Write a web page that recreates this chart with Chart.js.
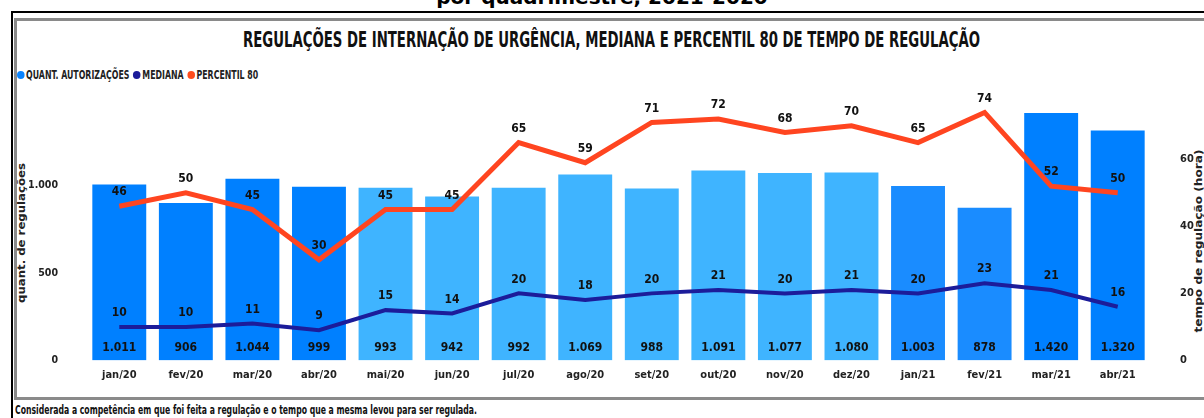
<!DOCTYPE html>
<html>
<head>
<meta charset="utf-8">
<script src="https://cdn.jsdelivr.net/npm/chart.js@4.4.1/dist/chart.umd.min.js"></script>
<style>
  html,body{margin:0;padding:0;background:#fff;width:1204px;height:418px;overflow:hidden;position:relative;
    font-family:"Liberation Sans Narrow","DejaVu Sans Condensed","Roboto",sans-serif;}
  .abs{position:absolute;white-space:nowrap;}
  #cut{top:-15px;left:0;width:1204px;text-align:center;font-family:"DejaVu Sans","Liberation Sans",sans-serif;font-weight:bold;font-size:20px;color:#000;}
  #outer{left:11px;top:11px;width:1200px;height:420px;border-left:2px solid #000;border-top:2px solid #000;box-sizing:border-box;}
  #inner{left:14px;top:18px;width:1200px;height:382px;border-left:3px solid #8a8a8a;border-top:3px solid #8a8a8a;border-bottom:3px solid #8a8a8a;box-sizing:border-box;}
  #title{top:28px;left:243px;font-weight:bold;font-size:21px;color:#111;transform-origin:0 0;}
  #legend{top:68px;left:17px;font-weight:bold;font-size:11.5px;color:#222;display:flex;align-items:center;transform-origin:0 0;}
  .dot{display:inline-block;width:10px;height:8px;border-radius:50%;margin:0 2px 0 0;}
  .lab{margin-right:5px;}
  #ytl{left:21px;top:233px;font-weight:bold;font-size:11px;color:#222;}
  #ytr{left:1198px;top:241px;font-weight:bold;font-size:11px;color:#222;}
  #foot{left:15px;top:402px;font-weight:bold;font-size:12.5px;color:#111;transform-origin:0 0;}
  #wrap{position:absolute;left:14px;top:22px;width:1190px;height:374px;}
</style>
</head>
<body>
<div id="cut" class="abs">por quadrimestre, 2021-2020</div>
<div id="outer" class="abs"></div>
<div id="inner" class="abs"></div>
<div id="title" class="abs" data-w="737">REGULAÇÕES DE INTERNAÇÃO DE URGÊNCIA, MEDIANA E PERCENTIL 80 DE TEMPO DE REGULAÇÃO</div>
<div id="legend" class="abs" data-w="245">
  <span class="dot" style="background:#0a84ff"></span><span class="lab">QUANT. AUTORIZAÇÕES</span>
  <span class="dot" style="background:#1c1c9a"></span><span class="lab">MEDIANA</span>
  <span class="dot" style="background:#ff4d1c"></span><span class="lab">PERCENTIL 80</span>
</div>
<div id="ytl" class="abs" data-len="140">quant. de regulações</div>
<div id="ytr" class="abs" data-len="183">tempo de regulação (hora)</div>
<div id="foot" class="abs" data-w="462">Considerada a competência em que foi feita a regulação e o tempo que a mesma levou para ser regulada.</div>
<div id="wrap"><canvas id="c"></canvas></div>
<script>
const categories = ["jan/20","fev/20","mar/20","abr/20","mai/20","jun/20","jul/20","ago/20","set/20","out/20","nov/20","dez/20","jan/21","fev/21","mar/21","abr/21"];
const autorizacoes = [1011,906,1044,999,993,942,992,1069,988,1091,1077,1080,1003,878,1420,1320];
const mediana = [10,10,11,9,15,14,20,18,20,21,20,21,20,23,21,16];
const percentil80 = [46,50,45,30,45,45,65,59,71,72,68,70,65,74,52,50];
const barColors = ["#0080ff","#0080ff","#0080ff","#0080ff","#3fb4ff","#3fb4ff","#3fb4ff","#3fb4ff","#3fb4ff","#3fb4ff","#3fb4ff","#3fb4ff","#1a8cff","#1a8cff","#0080ff","#0080ff"];
const leftTicks = [0,500,1000];
const rightTicks = [0,20,40,60];

document.querySelectorAll('[data-w]').forEach(el=>{
  const w = el.getBoundingClientRect().width;
  const t = parseFloat(el.dataset.w);
  el.style.transform = 'scaleX(' + (t / w) + ')';
});
document.querySelectorAll('[data-len]').forEach(el=>{
  const w = el.getBoundingClientRect().width;
  const t = parseFloat(el.dataset.len);
  el.style.transform = 'translate(-50%,-50%) rotate(-90deg) scaleX(' + (t / w) + ')';
});

function fmt(n){ return String(n).replace(/\B(?=(\d{3})+(?!\d))/g,'.'); }

const FONT = '"Liberation Sans Narrow","DejaVu Sans Condensed",Roboto,sans-serif';
Chart.defaults.font.family = FONT;

const labelPlugin = {
  id:'labels',
  afterDatasetsDraw(chart){
    const ctx = chart.ctx;
    ctx.save();
    ctx.textAlign='center';
    ctx.textBaseline='middle';
    ctx.fillStyle='#111';
    ctx.font = 'bold 12px ' + FONT;
    chart.data.datasets.forEach((ds,i)=>{
      const meta = chart.getDatasetMeta(i);
      meta.data.forEach((el,j)=>{
        const v = ds.data[j];
        if(ds.type==='bar'){
          ctx.fillText(fmt(v), el.x, chart.chartArea.bottom - 13);
        } else {
          ctx.fillText(String(v), el.x, el.y - 14);
        }
      });
    });
    ctx.restore();
  }
};

new Chart(document.getElementById('c'),{
  data:{
    labels:categories,
    datasets:[
      {type:'line',label:'PERCENTIL 80',data:percentil80,yAxisID:'y2',borderColor:'#ff4520',borderWidth:5,pointRadius:0,tension:0,order:0},
      {type:'line',label:'MEDIANA',data:mediana,yAxisID:'y2',borderColor:'#1c1c9a',borderWidth:4,pointRadius:0,tension:0,order:1},
      {type:'bar',label:'QUANT. AUTORIZAÇÕES',data:autorizacoes,yAxisID:'y',backgroundColor:barColors,borderColor:'rgba(255,255,255,0.35)',borderWidth:1,barPercentage:0.84,categoryPercentage:1,order:2}
    ]
  },
  options:{
    responsive:true,maintainAspectRatio:false,animation:false,
    layout:{padding:{top:76,left:0,right:0,bottom:0}},
    plugins:{legend:{display:false},tooltip:{enabled:false}},
    scales:{
      x:{grid:{display:false,drawTicks:false},border:{display:false},
         ticks:{padding:8,color:'#222',font:{size:11,weight:'bold'},maxRotation:0,autoSkip:false},
         afterFit(s){s.height=34;}},
      y:{position:'left',min:0,max:1500,grid:{display:false,drawTicks:false},border:{display:false},
         ticks:{padding:28,color:'#222',font:{size:10.5,weight:'bold'},callback:v=>fmt(v)},
         afterBuildTicks(s){s.ticks=leftTicks.map(v=>({value:v}));},
         afterFit(s){s.width=72;}},
      y2:{position:'right',min:0,max:78.3,grid:{display:false,drawTicks:false},border:{display:false},
         ticks:{padding:29,color:'#222',font:{size:11,weight:'bold'}},
         afterBuildTicks(s){s.ticks=rightTicks.map(v=>({value:v}));},
         afterFit(s){s.width=53;}}
    }
  },
  plugins:[labelPlugin]
});
</script>
</body>
</html>
